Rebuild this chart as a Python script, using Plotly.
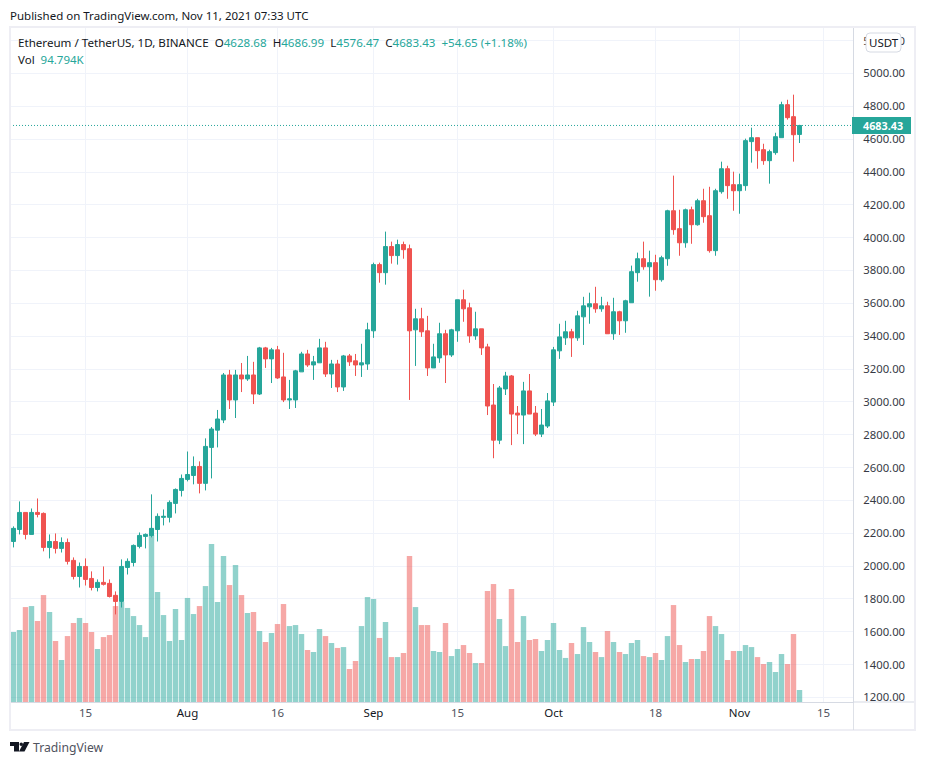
#!/usr/bin/env python3
# -*- coding: utf-8 -*-
"""ETHUSDT daily candles with volume, TradingView look"""

import pandas as pd
import plotly.graph_objects as go

START_DATE = "2021-07-03"

opens = [
    2150, 2223, 2327, 2193, 2327, 2321, 2114, 2150, 2108, 2144,
    2035, 1937, 1998, 1925, 1870, 1901, 1895, 1822, 1785, 1992,
    2022, 2120, 2181, 2187, 2223, 2297, 2297, 2382, 2461, 2528,
    2552, 2607, 2504, 2723, 2828, 2890, 3164, 3012, 3164, 3140,
    3164, 3048, 3329, 3262, 3317, 3152, 3012, 3012, 3183, 3292,
    3225, 3238, 3329, 3170, 3231, 3091, 3280, 3250, 3225, 3231,
    3433, 3836, 3787, 3946, 3891, 3958, 3933, 3439, 3506, 3433,
    3207, 3268, 3415, 3286, 3433, 3622, 3573, 3402, 3445, 3335,
    2981, 2767, 3079, 3158, 2932, 2920, 3067, 2932, 2804, 2853,
    2999, 3311, 3390, 3427, 3390, 3518, 3579, 3598, 3567, 3585,
    3415, 3549, 3494, 3604, 3787, 3872, 3823, 3848, 3744, 3872,
    4164, 4055, 3969, 4170, 4079, 4225, 4134, 3921, 4280, 4420,
    4323, 4286, 4317, 4585, 4609, 4536, 4469, 4518, 4609, 4810,
    4737, 4628.68,
]
highs = [
    2242, 2394, 2327, 2351, 2412, 2327, 2193, 2199, 2175, 2168,
    2053, 2022, 2047, 1968, 1919, 1998, 1919, 1846, 2041, 2047,
    2132, 2205, 2199, 2437, 2321, 2345, 2400, 2473, 2558, 2698,
    2668, 2638, 2778, 2847, 2951, 3176, 3195, 3195, 3237, 3280,
    3244, 3335, 3335, 3329, 3341, 3299, 3134, 3195, 3305, 3317,
    3280, 3384, 3366, 3256, 3256, 3286, 3292, 3292, 3354, 3482,
    3848, 3848, 4037, 3976, 3988, 3976, 3958, 3567, 3573, 3524,
    3354, 3482, 3439, 3445, 3622, 3683, 3604, 3549, 3445, 3354,
    3109, 3097, 3183, 3164, 2975, 3122, 3170, 2975, 2957, 3054,
    3335, 3476, 3494, 3445, 3555, 3640, 3665, 3701, 3640, 3610,
    3634, 3555, 3622, 3830, 3909, 3976, 3921, 3896, 3890, 4170,
    4378, 4170, 4177, 4189, 4237, 4298, 4310, 4298, 4463, 4438,
    4402, 4390, 4603, 4670, 4609, 4572, 4536, 4639, 4828, 4840,
    4871, 4686.99,
]
lows = [
    2114, 2193, 2163, 2193, 2297, 2090, 2047, 2077, 2083, 2010,
    1919, 1870, 1882, 1852, 1846, 1882, 1809, 1706, 1748, 1949,
    1998, 2108, 2108, 2175, 2150, 2248, 2266, 2321, 2424, 2516,
    2498, 2443, 2461, 2534, 2723, 2871, 2957, 2902, 3060, 3128,
    2987, 3042, 3207, 3115, 3140, 2999, 2957, 2963, 3183, 3213,
    3134, 3238, 3152, 3085, 3060, 3067, 3219, 3158, 3152, 3195,
    3390, 3726, 3714, 3842, 3836, 3872, 3012, 3219, 3396, 3158,
    3207, 3238, 3115, 3274, 3366, 3488, 3360, 3378, 3286, 2920,
    2657, 2743, 3042, 2737, 2804, 2743, 2926, 2792, 2786, 2841,
    2975, 3262, 3347, 3274, 3372, 3347, 3476, 3543, 3549, 3415,
    3378, 3408, 3421, 3604, 3732, 3805, 3641, 3677, 3732, 3829,
    4018, 3890, 3939, 3963, 4073, 4091, 3909, 3890, 4268, 4237,
    4164, 4146, 4286, 4457, 4420, 4444, 4329, 4505, 4609, 4719,
    4463, 4576.47,
]
closes = [
    2230, 2327, 2193, 2327, 2315, 2114, 2150, 2108, 2144, 2029,
    1937, 1998, 1919, 1870, 1901, 1889, 1815, 1785, 1998, 2029,
    2126, 2187, 2193, 2230, 2303, 2303, 2388, 2467, 2534, 2558,
    2607, 2504, 2729, 2835, 2896, 3164, 3012, 3164, 3140, 3164,
    3048, 3329, 3262, 3317, 3146, 3012, 3018, 3189, 3292, 3225,
    3244, 3329, 3170, 3231, 3091, 3280, 3244, 3225, 3238, 3439,
    3836, 3787, 3946, 3891, 3958, 3927, 3433, 3506, 3427, 3207,
    3274, 3415, 3286, 3439, 3622, 3567, 3402, 3445, 3329, 2975,
    2767, 3085, 3158, 2926, 2920, 3067, 2926, 2804, 2859, 3006,
    3317, 3396, 3427, 3390, 3524, 3585, 3598, 3567, 3585, 3415,
    3549, 3494, 3616, 3793, 3872, 3823, 3848, 3744, 3878, 4164,
    4049, 3969, 4170, 4079, 4225, 4128, 3921, 4286, 4420, 4317,
    4286, 4323, 4591, 4609, 4530, 4469, 4524, 4615, 4810, 4731,
    4627, 4683.43,
]
# volume in thousands of ETH
volumes = [
    553, 569, 750, 758, 640, 845, 711, 482, 332, 521,
    624, 664, 624, 553, 419, 513, 529, 758, 790, 743,
    679, 608, 513, 1319, 869, 687, 482, 735, 490, 822,
    695, 758, 916, 1248, 790, 1153, 924, 1082, 845, 703,
    711, 561, 474, 545, 616, 774, 600, 608, 537, 411,
    395, 577, 521, 466, 427, 434, 261, 324, 600, 829,
    814, 506, 632, 355, 355, 387, 1153, 750, 608, 608,
    403, 395, 624, 363, 419, 450, 387, 308, 308, 877,
    932, 656, 442, 893, 474, 679, 490, 498, 403, 490,
    624, 411, 348, 466, 379, 592, 474, 395, 355, 561,
    474, 395, 379, 466, 490, 363, 355, 387, 332, 521,
    766, 450, 316, 340, 340, 403, 679, 600, 537, 332,
    403, 403, 450, 434, 355, 300, 316, 237, 379, 300,
    537, 94.794,
]

tick_dates = ["2021-07-15", "2021-08-01", "2021-08-16", "2021-09-01", "2021-09-15",
              "2021-10-01", "2021-10-18", "2021-11-01", "2021-11-15"]
tick_labels = ["15", "Aug", "16", "Sep", "15", "Oct", "18", "Nov", "15"]
price_ticks = list(range(1200, 5400, 200))

UP = "#26a69a"
DOWN = "#ef5350"
GRID = "#f0f3fa"
FONT = "Noto Sans"
DARK = "#131722"
AXIS_TEXT = "#363a45"

# the page body has an 8px margin, all helper coordinates are page pixels
PAGE_MARGIN = 8
W, H = 926 - 2 * PAGE_MARGIN, 765 - 2 * PAGE_MARGIN
L, R, T, B = 10, 853, 27, 702


def fx(px):
    return (px - L) / (R - L)


def fy(py):
    return (B - py) / (B - T)


def rect(x0, y0, x1, y1, color):
    return dict(type="rect", xref="paper", yref="paper", x0=fx(x0), x1=fx(x1), y0=fy(y0), y1=fy(y1),
                fillcolor=color, line_width=0, layer="above")


def label(px, py, text, size=11.5, color=DARK, anchor="left"):
    return dict(xref="paper", yref="paper", x=fx(px), y=fy(py), text=text, showarrow=False,
                xanchor=anchor, yanchor="middle", font=dict(family=FONT, size=size, color=color))


dates = pd.date_range(START_DATE, periods=len(closes), freq="D")
vol_colors = [UP if c >= o else DOWN for o, c in zip(opens, closes)]
tick_text = [f'<span style="color:{DARK}">{t}</span>' if t.isalpha() else t for t in tick_labels]

fig = go.Figure()
fig.add_trace(go.Bar(x=dates, y=volumes, marker_color=vol_colors, marker_line_width=0, opacity=0.5,
                     yaxis="y", showlegend=False))
fig.add_trace(go.Candlestick(
    x=dates, open=opens, high=highs, low=lows, close=closes, yaxis="y2", showlegend=False,
    whiskerwidth=0,
    increasing=dict(line=dict(color=UP, width=1), fillcolor=UP),
    decreasing=dict(line=dict(color=DOWN, width=1), fillcolor=DOWN),
))

money = lambda s: f'<span style="color:{UP}">{s}</span>'
gap = "\u00a0"
header = (f"Ethereum / TetherUS, 1D, BINANCE{gap}{gap}"
          f"O{money('4628.68')}{gap}{gap}H{money('4686.99')}{gap}{gap}L{money('4576.47')}{gap}{gap}"
          f"C{money('4683.43')}{gap}{gap}{money('+54.65 (+1.18%)')}")

fig.update_layout(
    width=W, height=H,
    margin=dict(l=L - PAGE_MARGIN, r=W - (R - PAGE_MARGIN), t=T - PAGE_MARGIN, b=H - (B - PAGE_MARGIN), pad=0),
    paper_bgcolor="#ffffff", plot_bgcolor="#ffffff",
    bargap=0.1, boxgap=0.33, boxgroupgap=0,
    font=dict(family=FONT, size=11.5, color=DARK),
    xaxis=dict(type="date", range=["2021-07-02 10:00", "2021-11-19 22:00"], rangeslider_visible=False,
               tickmode="array", tickvals=tick_dates, ticktext=tick_text,
               showgrid=True, gridcolor=GRID, gridwidth=1, ticks="", showline=True, linecolor="#d6dae3",
               linewidth=1, tickfont=dict(family=FONT, size=11.5, color="#50535e")),
    yaxis=dict(range=[0, 5333], visible=False, showgrid=False),
    yaxis2=dict(overlaying="y", side="right", range=[1172.6, 5283], tickmode="array", tickvals=price_ticks,
                tickformat=".2f", showgrid=True, gridcolor=GRID, gridwidth=1, zeroline=False,
                showline=True, linecolor="#d6dae3", linewidth=1, ticks="outside", ticklen=7,
                tickcolor="rgba(0,0,0,0)", tickfont=dict(family=FONT, size=11.3, color=AXIS_TEXT)),
    shapes=[
        # last price line
        dict(type="line", xref="paper", yref="y2", x0=0, x1=1, y0=closes[-1], y1=closes[-1],
             line=dict(color=UP, width=1, dash="1px,2px")),
        # frame
        rect(9, 26, 916, 28, "#eeeef4"),
        rect(9, 729, 916, 731, "#eeeef4"),
        rect(9, 26, 11, 731, "#eeeef4"),
        rect(914, 26, 916, 731, "#eeeef4"),
        rect(853, 702, 853.8, 730, "#d6dae3"),
        rect(853, 701.6, 914, 702.6, "#d6dae3"),
        # price tag
        rect(852, 117, 911, 134, UP),
        # currency pill
        dict(type="path", xref="paper", yref="paper", layer="above", fillcolor="#ffffff",
             line=dict(color="#d6dae3", width=1),
             path=f"M {fx(870)} {fy(33)} L {fx(897)} {fy(33)} Q {fx(901)} {fy(33)} {fx(901)} {fy(37)} "
                  f"L {fx(901)} {fy(48)} Q {fx(901)} {fy(52)} {fx(897)} {fy(52)} L {fx(870)} {fy(52)} "
                  f"Q {fx(866)} {fy(52)} {fx(866)} {fy(48)} L {fx(866)} {fy(37)} Q {fx(866)} {fy(33)} {fx(870)} {fy(33)} Z"),
        # logo
        dict(type="path", xref="paper", yref="paper", layer="above", fillcolor="#131722", line_width=0,
             path=f"M {fx(10)} {fy(742)} L {fx(19)} {fy(742)} L {fx(19)} {fy(751.5)} L {fx(14)} {fy(751.5)} "
                  f"L {fx(14)} {fy(746)} L {fx(10)} {fy(746)} Z"),
        dict(type="circle", xref="paper", yref="paper", layer="above", fillcolor="#131722", line_width=0,
             x0=fx(19.5), x1=fx(23), y0=fy(746), y1=fy(742.5)),
        dict(type="path", xref="paper", yref="paper", layer="above", fillcolor="#131722", line_width=0,
             path=f"M {fx(24)} {fy(742)} L {fx(29.5)} {fy(742)} L {fx(24.5)} {fy(751.5)} L {fx(19)} {fy(751.5)} Z"),
    ],
    annotations=[
        label(8, 15, "Published on TradingView.com, Nov 11, 2021 07:33 UTC"),
        label(16, 42, header, size=11.6),
        label(16, 59, f"Vol{gap}{gap}{money('94.794K')}"),
        label(883.5, 42.5, "USDT", anchor="center"),
        label(905, 125.5, "<b>4683.43</b>", size=10.8, color="#ffffff", anchor="right"),
        label(31, 747, "TradingView", size=12.2, color="#50535e"),
    ],
)

fig.write_html("out.html")
